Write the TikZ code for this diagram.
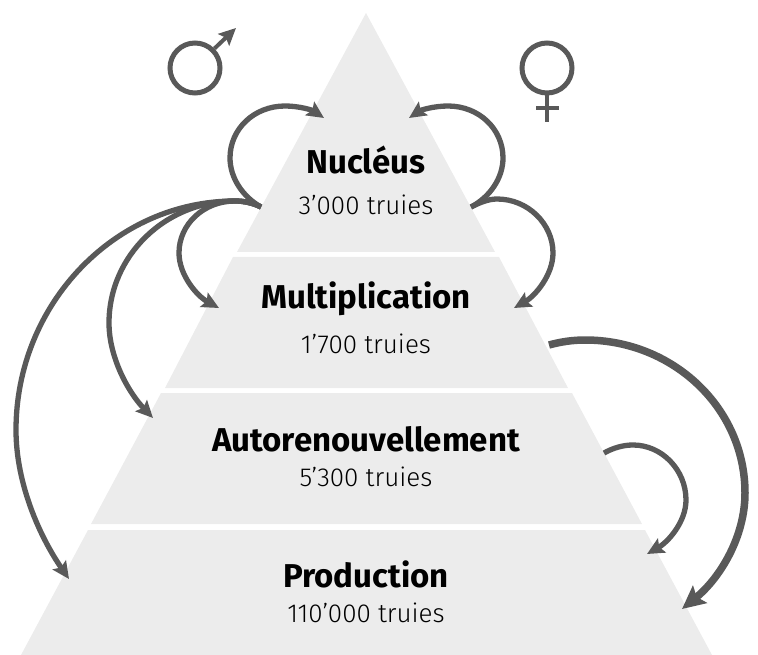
\documentclass[tikz,border=0pt]{standalone}
\usepackage{fontspec}
\setmainfont{Fira Sans}
\usetikzlibrary{arrows.meta}
\definecolor{pyr}{HTML}{ECECEC}
\definecolor{arc}{HTML}{595959}
\tikzset{
  layer/.style={fill=pyr,draw=none},
  conn/.style={draw=arc,line width=5.3pt,-{Stealth[length=17pt,width=16pt,inset=3pt]}},
  thick conn/.style={conn,line width=7.5pt,-{Stealth[length=23pt,width=22pt,inset=4pt]}},
  sym/.style={draw=arc,line width=5pt},
  title/.style={font=\fontsize{33}{36}\selectfont\bfseries,text=black,inner sep=0pt},
  sub/.style={font=\fontsize{26}{28}\selectfont\light,text=black,inner sep=0pt},
}
\newfontfamily\light{Fira Sans Light}
\begin{document}
\begin{tikzpicture}[x=1pt,y=-1pt]
\useasboundingbox (0,0) rectangle (758,655);
\fill[layer] (366,13) -- (495,252) -- (237,252) -- cycle;
\fill[layer] (233,257) -- (499,257) -- (568,388) -- (165,388) -- cycle;
\fill[layer] (161,393) -- (572,393) -- (642,524) -- (91,524) -- cycle;
\fill[layer] (88,530) -- (645,530) -- (712,655) -- (21,655) -- cycle;

\node[title] (nuc) at (366,160) {Nucléus};
\node[sub] (nucn) at (366,205) {3’000 truies};
\node[title] (mul) at (366,299) {Multiplication};
\node[sub] (muln) at (366,344) {1’700 truies};
\node[title] (aut) at (366,439) {Autorenouvellement};
\node[sub] (autn) at (366,477) {5’300 truies};
\node[title] (pro) at (366,574) {Production};
\node[sub] (pron) at (366,613) {110’000 truies};

\coordinate (ml) at (261,207);
\coordinate (fl) at (471,207);
\coordinate (nm) at (324,118);
\coordinate (nf) at (409,118);
\coordinate (m1) at (219,308);
\coordinate (m2) at (514,308);
\coordinate (a1) at (153,418);
\coordinate (p1) at (69,579);
\coordinate (ms) at (549,345);
\coordinate (as) at (604,453);
\coordinate (p2) at (647,554);
\coordinate (p3) at (682,609);

\path[conn] (ml) .. controls (243,197) and (230,178) .. (230,158) .. controls (230,129) and (254,106) .. (285,106) .. controls (299,106) and (312,110) .. (nm);
\path[conn] (fl) .. controls (490,197) and (503,178) .. (503,158) .. controls (503,129) and (479,106) .. (448,106) .. controls (434,106) and (421,110) .. (nf);
\path[conn] (ml) .. controls (253,203) and (244,201) .. (235,201) .. controls (204,201) and (179,224) .. (179,253) .. controls (179,275) and (197,296) .. (m1);
\path[conn] (ml) .. controls (253,203) and (244,201) .. (235,201) .. controls (165,201) and (109,256) .. (109,323) .. controls (109,357) and (128,392) .. (a1);
\path[conn] (ml) .. controls (253,203) and (244,201) .. (235,201) .. controls (115,201) and (16,304) .. (16,430) .. controls (16,484) and (40,537) .. (p1);
\path[conn] (fl) .. controls (479,203) and (488,199) .. (497,199) .. controls (528,199) and (553,224) .. (553,253) .. controls (553,275) and (535,296) .. (m2);
\path[thick conn] (ms) .. controls (560,342) and (572,340) .. (585,340) .. controls (673,340) and (745,408) .. (745,493) .. controls (745,537) and (720,578) .. (p3);
\path[conn] (as) .. controls (613,448) and (623,445) .. (633,445) .. controls (662,445) and (686,470) .. (686,500) .. controls (686,522) and (668,542) .. (p2);

\node[sym,circle,minimum size=50pt,inner sep=0pt] (male) at (195,68) {};
\coordinate (mt) at (236,28);
\draw[draw=arc,line width=4pt,-{Stealth[length=17pt,width=16pt,inset=3pt]}] (male.45) -- (mt);
\node[sym,circle,minimum size=50pt,inner sep=0pt] (female) at (547,68) {};
\coordinate (fb) at (547,122);
\coordinate (fa) at (536,108);
\coordinate (fc) at (559,108);
\draw[sym,line width=4pt] (female.south) -- (fb);
\draw[sym,line width=4pt] (fa) -- (fc);
\end{tikzpicture}
\end{document}
